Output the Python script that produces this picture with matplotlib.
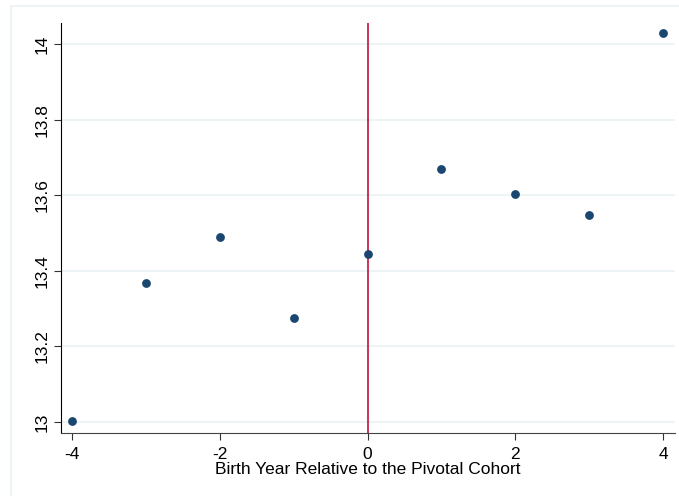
import matplotlib
matplotlib.use("Agg")
import matplotlib.pyplot as plt
from matplotlib.patches import Rectangle

plt.rcParams['font.family'] = ['Liberation Sans', 'DejaVu Sans']
plt.rcParams['axes.unicode_minus'] = False

birth_year = [-4, -3, -2, -1, 0, 1, 2, 3, 4]
outcome = [13.003, 13.369, 13.489, 13.275, 13.444, 13.670, 13.603, 13.549, 14.030]
x_ticks = [-4, -2, 0, 2, 4]
y_ticks = [13, 13.2, 13.4, 13.6, 13.8, 14]
y_tick_labels = ["13", "13.2", "13.4", "13.6", "13.8", "14"]

W, H = 679, 496
fig = plt.figure(figsize=(W / 100, H / 100), dpi=100)

# faint outer frame, Stata style (only top and left edges fall inside the image)
fig.patches.append(Rectangle((11 / W, -0.1), 1.2, 1.1 - 6 / H, transform=fig.transFigure,
                             fill=False, edgecolor="#eaf2f3", linewidth=1.2))

ax = fig.add_axes([61 / W, 1 - 433 / H, (675 - 61) / W, (433 - 23) / H])

ax.set_xlim(-4.145, 4.158)
ax.set_ylim(12.971, 14.056)

for y in y_ticks:
    ax.axhline(y, color="#eaf2f3", linewidth=1.2, zorder=0)

ax.axvline(0, color="#c0103a", linewidth=1.2, zorder=2)
ax.scatter(birth_year, outcome, s=40, color="#1a476f", zorder=3, linewidths=0)

ax.set_xticks(x_ticks)
ax.set_yticks(y_ticks)
ax.set_yticklabels(y_tick_labels, rotation=90, va="center")
ax.tick_params(labelsize=12.5, length=5, width=0.8, color="#333333")
ax.tick_params(axis="x", pad=5)
ax.tick_params(axis="y", pad=3)

ax.spines["top"].set_visible(False)
ax.spines["right"].set_visible(False)
ax.spines["left"].set_color("black")
ax.spines["bottom"].set_color("#444444")

ax.set_xlabel("Birth Year Relative to the Pivotal Cohort", fontsize=12.5, labelpad=0)

fig.savefig("out.png", dpi=100)
